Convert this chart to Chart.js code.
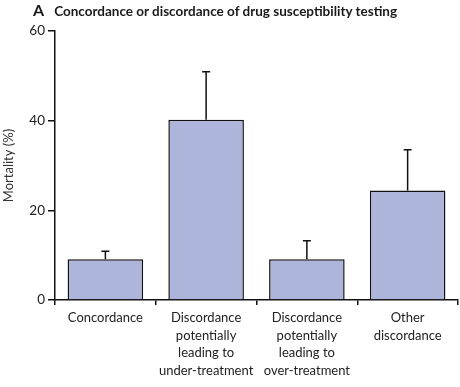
<!DOCTYPE html>
<html>
<head>
<meta charset="utf-8">
<script src="https://cdn.jsdelivr.net/npm/chart.js@4/dist/chart.umd.min.js"></script>
<style>
  body { margin: 0; background: #fff; }
  #wrap { position: relative; width: 460px; height: 387px; }
  #title { position: absolute; left: 33px; top: 0px; font-family: Lato, sans-serif; font-weight: bold; color: #1a1a1a; white-space: nowrap; }
  #title .lt { font-size: 16px; margin-right: 10px; }
  #title .tx { font-size: 13.5px; }
  canvas { position: absolute; left: 0; top: 0; }
</style>
</head>
<body>
<div id="wrap">
  <canvas id="myChart" width="460" height="387"></canvas>
  <div id="title"><span class="lt">A</span><span class="tx">Concordance or discordance of drug susceptibility testing</span></div>
</div>
<script>
// categories, values
let categories = [
    ['Concordance'],
    ['Discordance', 'potentially', 'leading to', 'under-treatment'],
    ['Discordance', 'potentially', 'leading to', 'over-treatment'],
    ['Other', 'discordance']
];
let mortality = [9.1, 40.2, 9.1, 24.4];
let errUpper = [10.9, 50.9, 13.2, 33.5];
let yTicks = [0, 20, 40, 60];

// upper error bars, drawn from the bar elements and the y scale
let errorBars = {
    id: 'errorBars',
    afterDatasetsDraw(chart) {
        let ctx = chart.ctx;
        let y = chart.scales.y;
        let meta = chart.getDatasetMeta(0);
        ctx.save();
        ctx.strokeStyle = '#111';
        ctx.lineWidth = 1.5;
        meta.data.forEach((bar, i) => {
            let yTop = y.getPixelForValue(errUpper[i]);
            let yBar = y.getPixelForValue(mortality[i]);
            ctx.beginPath();
            ctx.moveTo(bar.x, yBar);
            ctx.lineTo(bar.x, yTop);
            ctx.moveTo(bar.x - 4, yTop);
            ctx.lineTo(bar.x + 4, yTop);
            ctx.stroke();
        });
        ctx.restore();
    }
};

let ctx = document.getElementById('myChart').getContext('2d');
let config = {
    type: 'bar',
    data: {
        labels: categories,
        datasets: [{
            label: 'Mortality',
            data: mortality,
            backgroundColor: '#adb5da',
            borderColor: '#111',
            borderWidth: 1.5,
            categoryPercentage: 1,
            barPercentage: 0.75
        }]
    },
    options: {
        responsive: false,
        animation: false,
        layout: { padding: { top: 31, right: 2, left: 0, bottom: 0 } },
        plugins: {
            legend: { display: false },
            tooltip: { enabled: false }
        },
        scales: {
            x: {
                grid: { display: true, offset: true, drawOnChartArea: false, drawTicks: true, tickLength: 5, color: '#111', lineWidth: 1.5 },
                border: { color: '#111', width: 1.5 },
                ticks: {
                    color: '#222',
                    font: { family: 'Lato', size: 13, lineHeight: 1.36 },
                    maxRotation: 0,
                    autoSkip: false,
                    padding: 4
                },
                afterFit(scale) { scale.height = 87; }
            },
            y: {
                min: 0,
                max: 60,
                afterBuildTicks(scale) { scale.ticks = yTicks.map(v => ({ value: v })); },
                grid: { display: true, drawOnChartArea: false, drawTicks: true, tickLength: 7, color: '#111', lineWidth: 1.5 },
                border: { color: '#111', width: 1.5 },
                ticks: {
                    color: '#222',
                    font: { family: 'Lato', size: 13.5 },
                    padding: 3
                },
                title: {
                    display: true,
                    text: 'Mortality (%)',
                    color: '#333',
                    font: { family: 'Lato', size: 13 },
                    padding: { top: 1, bottom: 0 }
                },
                afterFit(scale) { scale.width = 55; }
            }
        }
    },
    plugins: [errorBars]
};
let myChart = new Chart(ctx, config);
</script>
</body>
</html>
